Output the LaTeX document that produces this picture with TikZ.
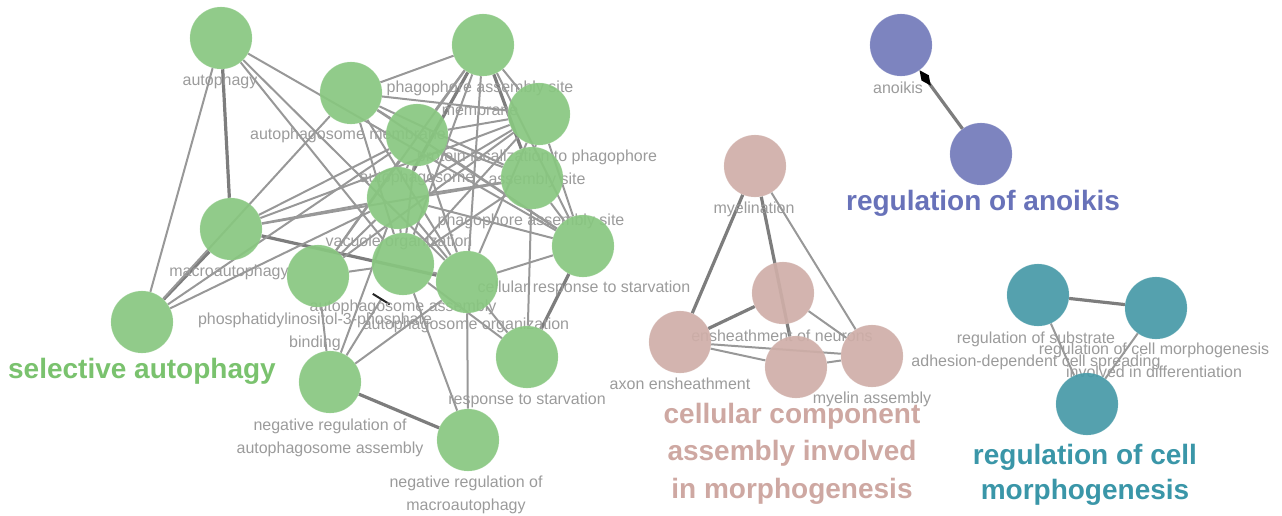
\documentclass[tikz,border=0pt]{standalone}
\usepackage{fontspec}
\setmainfont{Liberation Sans}
\usetikzlibrary{arrows.meta}

\definecolor{gnode}{RGB}{136,199,128}
\definecolor{gtitle}{RGB}{122,194,110}
\definecolor{pnode}{RGB}{207,174,168}
\definecolor{ptitle}{RGB}{206,168,162}
\definecolor{unode}{RGB}{114,122,186}
\definecolor{utitle}{RGB}{104,114,185}
\definecolor{tnode}{RGB}{70,153,167}
\definecolor{ttitle}{RGB}{58,150,168}
\definecolor{termgray}{RGB}{155,155,155}
\definecolor{edgegray}{RGB}{152,152,152}
\definecolor{edgedark}{RGB}{125,125,125}

\pgfdeclarelayer{edges}
\pgfdeclarelayer{texts}
\pgfsetlayers{edges,texts,main}

\tikzset{
  term/.style={circle, minimum size=62pt, inner sep=0pt, fill opacity=0.92,
    draw opacity=0.35, line width=0.6pt},
  gterm/.style={term, fill=gnode, draw=gnode!70!white},
  pterm/.style={term, fill=pnode, draw=pnode!70!white},
  uterm/.style={term, fill=unode, draw=unode!70!white},
  tterm/.style={term, fill=tnode, draw=tnode!70!white},
  lbl/.style={anchor=north, inner sep=0pt, align=center, text=termgray,
    font=\fontsize{16}{23}\selectfont},
  ctitle/.style={anchor=north, inner sep=0pt, align=center,
    font=\bfseries\fontsize{28}{37.5}\selectfont},
  link/.style={draw=edgegray, line width=2pt},
  heavy/.style={draw=edgedark, line width=3.2pt},
}

\begin{document}
\begin{tikzpicture}[x=1pt, y=-1pt]
\useasboundingbox (0,0) rectangle (1282,515);

% ---------- term labels (under the circles) ----------
\begin{pgfonlayer}{texts}
  \node[lbl] (lA)  at (220,74)  {autophagy};
  \node[lbl] (lP)  at (480,81)  {phagophore assembly site\\membrane};
  \node[lbl] (lM)  at (348,128) {autophagosome membrane};
  \node[lbl] (lL)  at (537,150) {protein localization to phagophore\\assembly site};
  \node[lbl] (lS)  at (417,171) {autophagosome};
  \node[lbl] (lQ)  at (531,214) {phagophore assembly site};
  \node[lbl] (lV)  at (399,235) {vacuole organization};
  \node[lbl] (lX)  at (229,265) {macroautophagy};
  \node[lbl] (lC)  at (584,281) {cellular response to starvation};
  \node[lbl] (lG)  at (403,300) {autophagosome assembly};
  \node[lbl] (lB)  at (315,313) {phosphatidylinositol-3-phosphate\\binding};
  \node[lbl] (lO)  at (466,318) {autophagosome organization};
  \node[lbl] (lR)  at (527,393) {response to starvation};
  \node[lbl] (lN)  at (330,419) {negative regulation of\\autophagosome assembly};
  \node[lbl] (lNM) at (466,476) {negative regulation of\\macroautophagy};

  \node[lbl] (lpMy) at (754,202) {myelination};
  \node[lbl] (lpEn) at (782,330) {ensheathment of neurons};
  \node[lbl] (lpAx) at (680,378) {axon ensheathment};
  \node[lbl] (lpMA) at (872,392) {myelin assembly};

  \node[lbl] (luAn) at (898,82) {anoikis};

  \node[lbl] (ltSub) at (1036,332) {regulation of substrate\\adhesion-dependent cell spreading};
  \node[lbl] (ltMor) at (1154,343) {regulation of cell morphogenesis\\involved in differentiation};

  % cluster titles
  \node[ctitle, text=gtitle] (cG) at (142,358) {selective autophagy};
  \node[ctitle, text=ptitle] (cP) at (792,403) {cellular component\\assembly involved\\in morphogenesis};
  \node[ctitle, text=utitle] (cU) at (983,190) {regulation of anoikis};
  \node[ctitle, text=ttitle, font=\bfseries\fontsize{28}{35}\selectfont] (cT) at (1085,444) {regulation of cell\\morphogenesis};
\end{pgfonlayer}

% ---------- term circles ----------
% selective autophagy
\node[gterm] (gA)  at (221,38)  {};
\node[gterm] (gP)  at (483,45)  {};
\node[gterm] (gM)  at (351,93)  {};
\node[gterm] (gL)  at (539,114) {};
\node[gterm] (gS)  at (417,135) {};
\node[gterm] (gQ)  at (532,178) {};
\node[gterm] (gV)  at (398,198) {};
\node[gterm] (gX)  at (231,229) {};
\node[gterm] (gC)  at (583,246) {};
\node[gterm] (gG)  at (403,264) {};
\node[gterm] (gB)  at (318,276) {};
\node[gterm] (gO)  at (467,282) {};
\node[gterm] (gSA) at (142,322) {};
\node[gterm] (gR)  at (527,357) {};
\node[gterm] (gN)  at (330,382) {};
\node[gterm] (gNM) at (468,440) {};
% cellular component assembly involved in morphogenesis
\node[pterm] (pMy) at (755,166) {};
\node[pterm] (pEn) at (783,293) {};
\node[pterm] (pAx) at (680,342) {};
\node[pterm] (pCC) at (796,367) {};
\node[pterm] (pMA) at (872,356) {};
% regulation of anoikis
\node[uterm] (uAn)  at (901,45)  {};
\node[uterm] (uReg) at (981,154) {};
% regulation of cell morphogenesis
\node[tterm] (tSub) at (1038,295) {};
\node[tterm] (tMor) at (1156,308) {};
\node[tterm] (tReg) at (1087,404) {};

% ---------- connectors ----------
\begin{pgfonlayer}{edges}
  % heavier similarity links
  \draw[heavy] (gA) -- (gX);
  \draw[heavy] (gSA) -- (gX);
  \draw[heavy] (gX) -- (gO);
  \draw[heavy] (gC) -- (gR);
  \draw[heavy] (gN) -- (gNM);
  \draw[heavy] (gP) -- (gV);
  \draw[heavy] (gP) -- (gQ);
  % ordinary links
  \foreach \a/\b in {gA/gSA, gA/gG, gA/gO, gA/gC,
      gSA/gM, gSA/gS, gSA/gV,
      gX/gS, gX/gL, gX/gQ, gX/gV,
      gP/gM, gP/gS, gP/gL, gP/gG, gP/gO, gP/gC, gP/gB,
      gM/gS, gM/gL, gM/gQ, gM/gO, gM/gG, gM/gC,
      gL/gS, gL/gQ, gL/gV, gL/gG, gL/gO, gL/gC, gL/gB,
      gS/gQ, gS/gV, gS/gG, gS/gO, gS/gC, gS/gB,
      gQ/gV, gQ/gG, gQ/gC, gQ/gR,
      gV/gG, gV/gO, gV/gC, gV/gB, gV/gN,
      gG/gO, gG/gB, gG/gR, gG/gNM,
      gO/gC, gO/gR, gO/gN, gO/gNM,
      gB/gN}
    \draw[link] (\a) -- (\b);
  % inhibition
  \draw[link, shorten >=9pt, -{Bar[width=20pt, line width=2pt, color=black!85]}] (gN) -- (gG);

  % morphogenesis cluster
  \draw[heavy] (pMy) -- (pAx);
  \draw[heavy] (pEn) -- (pAx);
  \draw[heavy] (pMy) -- (pCC);
  \draw[link] (pMy) -- (pMA);
  \draw[link] (pEn) -- (pMA);
  \draw[link] (pAx) -- (pCC);
  \draw[link] (pAx) -- (pMA);
  \draw[link] (pCC) -- (pMA);

  % anoikis
  \draw[heavy, -{Diamond[length=19pt, width=9pt, color=black, fill=black]}] (uReg) -- (uAn);

  % cell morphogenesis
  \draw[heavy] (tSub) -- (tMor);
  \draw[link] (tSub) -- (tReg);
  \draw[link] (tMor) -- (tReg);
\end{pgfonlayer}
\end{tikzpicture}
\end{document}
